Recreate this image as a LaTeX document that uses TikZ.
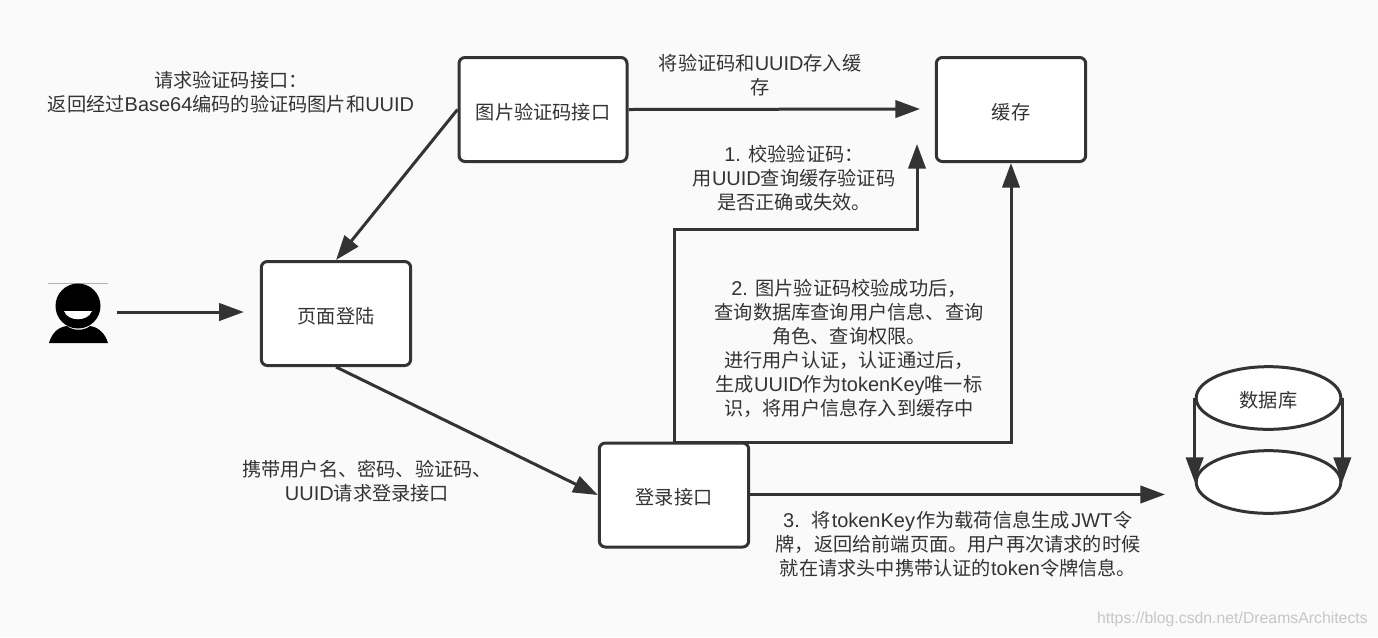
\documentclass[tikz,border=0pt]{standalone}
\usepackage{fontspec}
\setmainfont{Noto Sans CJK SC}
\newfontfamily\latinf[Scale=1.04]{Liberation Sans}
\newcommand{\lat}[1]{{\latinf #1}}
\newcommand{\dn}[1]{\raisebox{-7.4pt}[0pt][0pt]{#1}}
\usetikzlibrary{arrows.meta,shapes.geometric}
\definecolor{ink}{HTML}{333333}
\definecolor{bgc}{HTML}{FAFAFA}
\tikzset{
  box/.style={draw=ink,line width=2.25pt,rounded corners=4.5pt,fill=white,text=ink,font=\fontsize{14.4pt}{18pt}\selectfont,inner sep=0pt,anchor=center},
  ell/.style={draw=ink,line width=2.25pt,fill=white,ellipse,text=ink,font=\fontsize{14.4pt}{18pt}\selectfont,inner sep=0pt},
  lab/.style={text=ink,font=\fontsize{14.4pt}{18pt}\selectfont,align=center,inner sep=0pt},
  conn/.style={draw=ink,line width=2.25pt,-{Triangle[length=18.5pt,width=13pt]}},
}
\begin{document}
\begin{tikzpicture}[x=0.75pt,y=-0.75pt]
\path[use as bounding box,fill=bgc] (0,0) rectangle (1378,637);
% boxes
\node[box,minimum width=112pt,minimum height=78pt] (cache) at (1011,109.5) {\dn{缓存}};
\node[box,minimum width=112pt,minimum height=78pt] (login) at (336,313.5) {\dn{页面登陆}};
\node[box,minimum width=112pt,minimum height=78pt] (api) at (674,495) {\dn{登录接口}};
\node[box,minimum width=126pt,minimum height=78pt] (img) at (543,109.5) {\dn{图片验证码接口}};
\node[ell,minimum width=108.5pt,minimum height=47pt] (db1) at (1268.5,398) {\dn{数据库}};
\node[ell,minimum width=108.5pt,minimum height=47pt] (db2) at (1268.5,482) {};
% user icon
\draw[gray!60,line width=0.5pt] (48,283.5) -- (108,283.5);
\fill[black] (78,306) circle[radius=22.5];
\fill[white] (64,311) .. controls (68,322) and (88,322) .. (92,311) -- cycle;
\fill[black] (49,343) .. controls (52,333) and (58,327) .. (67,326) .. controls (73,331) and (84,331) .. (90,326) .. controls (98,327) and (105,333) .. (108,343) -- cycle;
\coordinate (userR) at (117,312);
\coordinate (cacheL) at (920,109);
\coordinate (cacheB) at (917,144);
\coordinate (dbL) at (1165,494.5);
\coordinate (apiE) at (749,494.5);
% connectors
\draw[conn,shorten >=12pt] (userR) -- (login.west |- userR);
\draw[conn] (img.west) -- (login.north);
\draw[conn] (img.east) -- (cacheL);
\draw[conn] (login.south) -- (api.west);
\draw[conn] (api.north) |- (917,229) -- (cacheB);
\draw[conn] (api.north) |- (1011,442) -- (cache.south);
\draw[conn] (apiE) -- (dbL);
\draw[conn] (db1.west) -- (db1.west |- db2.west);
\draw[conn] (db1.east) -- (db1.east |- db2.east);
% labels
\node[lab] at (231,92.5) {请求验证码接口：\\返回经过\lat{Base64}编码的验证码图片和\lat{UUID}};
\node[lab] at (760,75) {将验证码和\lat{UUID}存入缓\\存};
\node[lab] at (794,178.5) {\lat{1. }校验验证码：\\用\lat{UUID}查询缓存验证码\\是否正确或失效。};
\node[lab] at (849,348) {\lat{2. }图片验证码校验成功后，\\查询数据库查询用户信息、查询\\角色、查询权限。\\进行用户认证，认证通过后，\\生成\lat{UUID}作为\lat{tokenKey}唯一标\\识，将用户信息存入到缓存中};
\node[lab] at (367,481.5) {携带用户名、密码、验证码、\\\lat{UUID}请求登录接口};
\node[lab] at (958,544.5) {\lat{3. }\hspace{3pt}将\hspace{1pt}\lat{tokenKey}\hspace{1pt}作为载荷信息生成\hspace{1pt}\lat{JWT}\hspace{1pt}令\\牌，返回给前端页面。用户再次请求的时候\\就在请求头中携带认证的\lat{token}令牌信息。};
\node[text=gray!45,font=\fontsize{11.4pt}{14pt}\selectfont,inner sep=0pt,anchor=east] at (1368,619) {\lat{https://blog.csdn.net/DreamsArchitects}};
\end{tikzpicture}
\end{document}
